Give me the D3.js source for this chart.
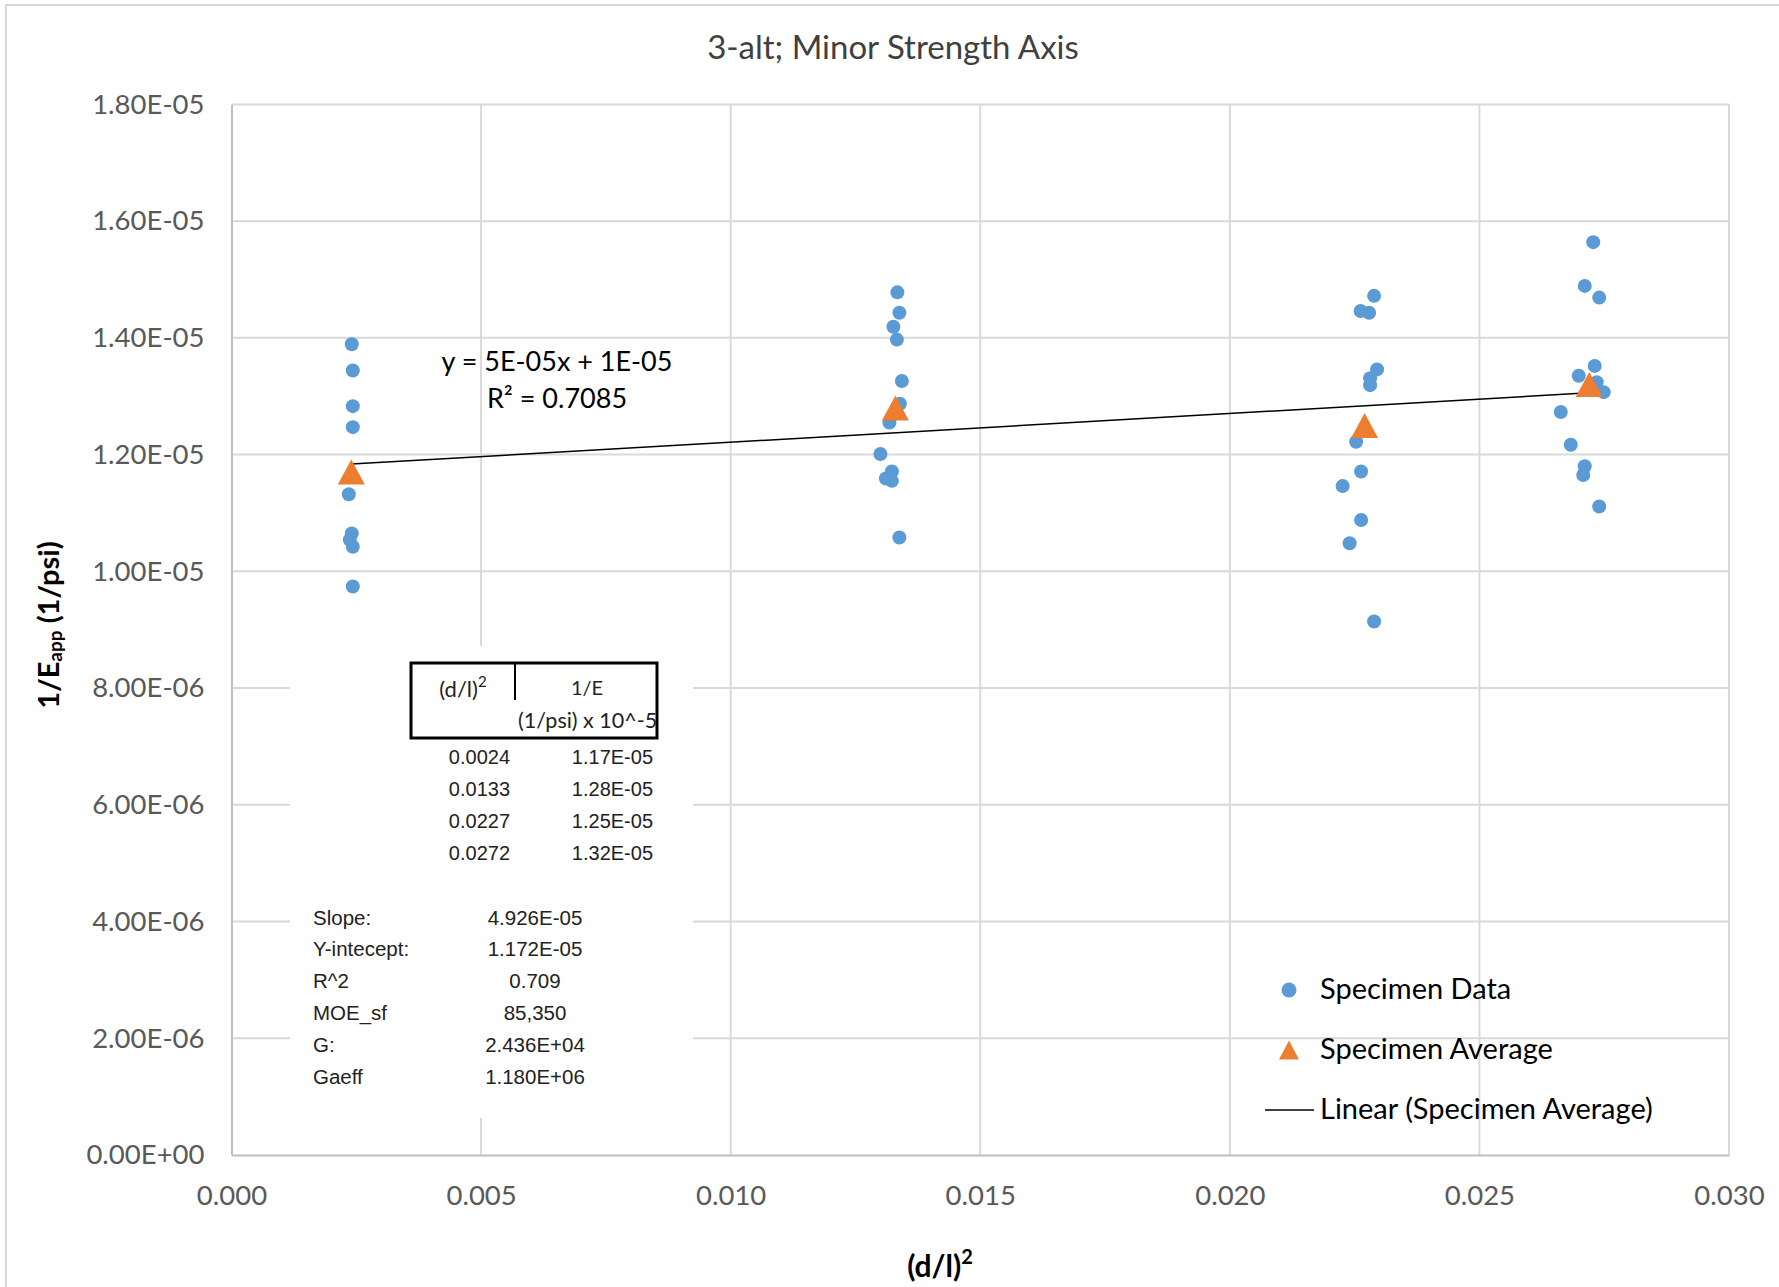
<!DOCTYPE html>
<html>
<head>
<meta charset="utf-8">
<script src="https://cdn.jsdelivr.net/npm/d3@7"></script>
<style>
  html, body { margin: 0; padding: 0; background: #fff; }
  svg { display: block; }
</style>
</head>
<body>
<svg id="chart" width="1779" height="1287"></svg>
<script>
// Individual specimen measurements: (d/l)^2 and 1/E_app (1/psi)
const specimenX = [
  0.00241, 0.00243, 0.00243, 0.00243, 0.00235, 0.00241, 0.00237, 0.00243, 0.00243,
  0.01334, 0.01338, 0.01326, 0.01333, 0.01343, 0.01339, 0.01318, 0.01300, 0.01323, 0.01311, 0.01323, 0.01338,
  0.02289, 0.02262, 0.02279, 0.02295, 0.02281, 0.02281, 0.02253, 0.02263, 0.02226, 0.02263, 0.02240, 0.02289,
  0.02728, 0.02711, 0.02740, 0.02731, 0.02699, 0.02735, 0.02749, 0.02663, 0.02683, 0.02711, 0.02708, 0.02740
];
const specimenY = [
  1.389e-5, 1.344e-5, 1.283e-5, 1.247e-5, 1.132e-5, 1.065e-5, 1.054e-5, 1.042e-5, 9.74e-6,
  1.478e-5, 1.443e-5, 1.419e-5, 1.397e-5, 1.326e-5, 1.287e-5, 1.255e-5, 1.201e-5, 1.171e-5, 1.159e-5, 1.155e-5, 1.058e-5,
  1.472e-5, 1.446e-5, 1.443e-5, 1.346e-5, 1.331e-5, 1.319e-5, 1.222e-5, 1.171e-5, 1.146e-5, 1.088e-5, 1.048e-5, 9.14e-6,
  1.564e-5, 1.489e-5, 1.469e-5, 1.352e-5, 1.335e-5, 1.324e-5, 1.307e-5, 1.273e-5, 1.217e-5, 1.180e-5, 1.165e-5, 1.111e-5
];

// Group averages
const averageX = [0.0024, 0.0133, 0.0227, 0.0272];
const averageY = [1.17e-5, 1.28e-5, 1.25e-5, 1.32e-5];

// Linear fit of the averages
const fitSlope = 4.926e-5;
const fitIntercept = 1.172e-5;
const fitLabel = ["y = 5E-05x + 1E-05", "R² = 0.7085"];

// Axis ticks
const xTicks = [0, 0.005, 0.010, 0.015, 0.020, 0.025, 0.030];
const yTicks = [0, 2e-6, 4e-6, 6e-6, 8e-6, 1e-5, 1.2e-5, 1.4e-5, 1.6e-5, 1.8e-5];

// Summary table
const tableX = ["0.0024", "0.0133", "0.0227", "0.0272"];
const tableY = ["1.17E-05", "1.28E-05", "1.25E-05", "1.32E-05"];
const statNames = ["Slope:", "Y-intecept:", "R^2", "MOE_sf", "G:", "Gaeff"];
const statValues = ["4.926E-05", "1.172E-05", "0.709", "85,350", "2.436E+04", "1.180E+06"];

const legendItems = ["Specimen Data", "Specimen Average", "Linear (Specimen Average)"];

const blue = "#5B9BD5", orange = "#ED7D31", grid = "#d9d9d9";
const calibri = "Lato, 'Open Sans', sans-serif";
const arial = "'Liberation Sans', Arial, sans-serif";

const svg = d3.select("#chart");
const plot = { left: 231.5, right: 1729, top: 104.4, bottom: 1155 };

const x = d3.scaleLinear().domain([0, 0.03]).range([plot.left, plot.right]);
const y = d3.scaleLinear().domain([0, 1.8e-5]).range([plot.bottom, plot.top]);

function sci(v) {
  if (v === 0) return "0.00E+00";
  const [m, e] = v.toExponential(2).split("e");
  const n = parseInt(e, 10);
  return m + "E" + (n < 0 ? "-" : "+") + String(Math.abs(n)).padStart(2, "0");
}

// Outer chart frame
svg.append("rect")
  .attr("x", 6).attr("y", 5).attr("width", 1800).attr("height", 1320)
  .attr("fill", "#fff").attr("stroke", grid).attr("stroke-width", 2);

// Title
svg.append("text")
  .attr("x", 893).attr("y", 46)
  .attr("text-anchor", "middle").attr("dominant-baseline", "central")
  .attr("font-family", calibri).attr("font-size", 33).attr("fill", "#404040")
  .text("3-alt; Minor Strength Axis");

// Gridlines
const gridG = svg.append("g");
gridG.selectAll("line.h").data(yTicks.slice(1)).join("line")
  .attr("x1", plot.left).attr("x2", plot.right)
  .attr("y1", d => y(d)).attr("y2", d => y(d))
  .attr("stroke", grid).attr("stroke-width", 2);
gridG.selectAll("line.v").data(xTicks.slice(1)).join("line")
  .attr("y1", plot.top).attr("y2", plot.bottom)
  .attr("x1", d => x(d)).attr("x2", d => x(d))
  .attr("stroke", grid).attr("stroke-width", 2);

// Axes
const yAxis = svg.append("g").attr("transform", `translate(${plot.left},0)`)
  .call(d3.axisLeft(y).tickValues(yTicks).tickFormat(sci).tickSize(0).tickPadding(27));
const xAxis = svg.append("g").attr("transform", `translate(0,${plot.bottom})`)
  .call(d3.axisBottom(x).tickValues(xTicks).tickFormat(d3.format(".3f")).tickSize(0).tickPadding(30));
[yAxis, xAxis].forEach(g => {
  g.select(".domain").attr("stroke", "#bfbfbf").attr("stroke-width", 2);
  g.selectAll("text").attr("font-family", calibri).attr("font-size", 27.5).attr("fill", "#595959");
});

// Axis titles
const yTitle = svg.append("text")
  .attr("transform", "translate(47,625) rotate(-90)")
  .attr("text-anchor", "middle").attr("dominant-baseline", "central")
  .attr("font-family", calibri).attr("font-size", 29).attr("font-weight", "bold").attr("fill", "#000");
yTitle.append("tspan").text("1/E");
yTitle.append("tspan").attr("font-size", 19).attr("dy", 7).text("app");
yTitle.append("tspan").attr("dy", -7).text(" (1/psi)");

const xTitle = svg.append("text")
  .attr("x", 940).attr("y", 1265)
  .attr("text-anchor", "middle").attr("dominant-baseline", "central")
  .attr("font-family", calibri).attr("font-size", 30).attr("font-weight", "bold").attr("fill", "#000");
xTitle.append("tspan").text("(d/l)");
xTitle.append("tspan").attr("font-size", 20).attr("dy", -9).text("2");

// Summary panel with white backing
svg.append("rect")
  .attr("x", 290).attr("y", 646).attr("width", 403).attr("height", 472).attr("fill", "#fff");

const tb = svg.append("g");
tb.append("rect")
  .attr("x", 411).attr("y", 663).attr("width", 246).attr("height", 75)
  .attr("fill", "none").attr("stroke", "#000").attr("stroke-width", 3);
tb.append("line").attr("x1", 515).attr("x2", 515).attr("y1", 663).attr("y2", 700)
  .attr("stroke", "#000").attr("stroke-width", 2);
const hdr1 = tb.append("text").attr("x", 463).attr("y", 688).attr("text-anchor", "middle")
  .attr("dominant-baseline", "central").attr("font-family", calibri).attr("font-size", 22)
  .attr("fill", "#222");
hdr1.append("tspan").text("(d/l)");
hdr1.append("tspan").attr("font-size", 15).attr("dy", -7).text("2");
tb.append("text").attr("x", 587).attr("y", 687).attr("text-anchor", "middle")
  .attr("dominant-baseline", "central").attr("font-family", calibri).attr("font-size", 20)
  .attr("fill", "#222").text("1/E");
const clip = svg.append("clipPath").attr("id", "hdrclip");
clip.append("rect").attr("x", 411).attr("y", 700).attr("width", 245).attr("height", 37);
tb.append("text").attr("x", 518).attr("y", 720).attr("clip-path", "url(#hdrclip)")
  .attr("dominant-baseline", "central").attr("font-family", calibri).attr("font-size", 21.5)
  .attr("fill", "#222").text("(1/psi) x 10^-5");

const rowY = d3.scaleLinear().domain([0, 3]).range([757, 853]);
tb.selectAll("text.tx").data(tableX).join("text")
  .attr("x", 510).attr("y", (d, i) => rowY(i)).attr("text-anchor", "end")
  .attr("dominant-baseline", "central").attr("font-family", arial).attr("font-size", 20)
  .attr("fill", "#222").text(d => d);
tb.selectAll("text.ty").data(tableY).join("text")
  .attr("x", 653).attr("y", (d, i) => rowY(i)).attr("text-anchor", "end")
  .attr("dominant-baseline", "central").attr("font-family", arial).attr("font-size", 20)
  .attr("fill", "#222").text(d => d);

const statY = d3.scaleLinear().domain([0, 5]).range([917, 1076]);
tb.selectAll("text.sn").data(statNames).join("text")
  .attr("x", 313).attr("y", (d, i) => statY(i))
  .attr("dominant-baseline", "central").attr("font-family", arial).attr("font-size", 20.5)
  .attr("fill", "#222").text(d => d);
tb.selectAll("text.sv").data(statValues).join("text")
  .attr("x", 535).attr("y", (d, i) => statY(i)).attr("text-anchor", "middle")
  .attr("dominant-baseline", "central").attr("font-family", arial).attr("font-size", 20.5)
  .attr("fill", "#222").text(d => d);

// Trendline over the range of the averages
const fitX = d3.extent(averageX);
svg.append("line")
  .attr("x1", x(fitX[0])).attr("y1", y(fitSlope * fitX[0] + fitIntercept))
  .attr("x2", x(fitX[1])).attr("y2", y(fitSlope * fitX[1] + fitIntercept))
  .attr("stroke", "#000").attr("stroke-width", 1.5);

// Specimen points
svg.append("g").selectAll("circle").data(specimenX).join("circle")
  .attr("cx", d => x(d)).attr("cy", (d, i) => y(specimenY[i])).attr("r", 7)
  .attr("fill", blue);

// Average markers
const tri = (w, h) => `M0,${-h / 2}L${w / 2},${h / 2}L${-w / 2},${h / 2}Z`;
svg.append("g").selectAll("path").data(averageX).join("path")
  .attr("transform", (d, i) => `translate(${x(d)},${y(averageY[i])})`)
  .attr("d", tri(27, 25)).attr("fill", orange);

// Fit equation label
svg.append("g").selectAll("text").data(fitLabel).join("text")
  .attr("x", 557).attr("y", (d, i) => 360 + i * 37)
  .attr("text-anchor", "middle").attr("dominant-baseline", "central")
  .attr("font-family", calibri).attr("font-size", 27).attr("fill", "#000")
  .text(d => d);

// Legend
const lg = svg.append("g");
const lgY = [990, 1050, 1110];
lg.append("circle").attr("cx", 1289).attr("cy", lgY[0]).attr("r", 7.5).attr("fill", blue);
lg.append("path").attr("transform", `translate(1289,${lgY[1]})`).attr("d", tri(20, 19)).attr("fill", orange);
lg.append("line").attr("x1", 1265).attr("x2", 1314).attr("y1", lgY[2]).attr("y2", lgY[2])
  .attr("stroke", "#000").attr("stroke-width", 1.5);
lg.selectAll("text").data(legendItems).join("text")
  .attr("x", 1320).attr("y", (d, i) => lgY[i] - 3)
  .attr("dominant-baseline", "central").attr("font-family", calibri).attr("font-size", 29)
  .attr("fill", "#000").text(d => d);
</script>
</body>
</html>
